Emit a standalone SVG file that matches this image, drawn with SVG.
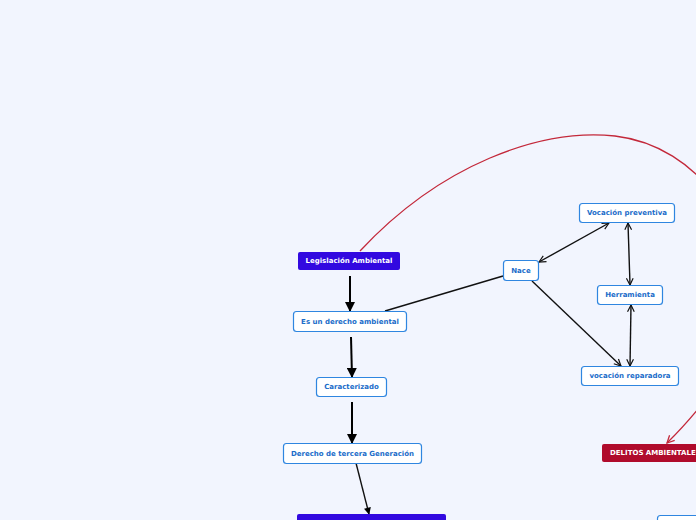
<svg xmlns="http://www.w3.org/2000/svg" width="696" height="520" viewBox="0 0 696 520">
<style>
.bg{fill:#f2f5fe}
.w rect{fill:#ffffff;stroke:#2f86e0;stroke-width:1.2}
.w text{fill:#1a6cc9}
.p rect{fill:#3209e0}
.p text{fill:#ffffff}
.r rect{fill:#b00b2c}
.r text{fill:#ffffff}
text{font-family:"DejaVu Sans",Verdana,sans-serif;font-weight:bold;font-size:7px;text-anchor:middle;dominant-baseline:central}
.thick{stroke:#000;stroke-width:2;fill:none}
.thin{stroke:#111;stroke-width:1.4;fill:none}
.red{stroke:#c3283a;stroke-width:1.3;fill:none}
</style>
<defs>
<marker id="big" viewBox="0 0 10 10" refX="9" refY="5" markerWidth="6" markerHeight="5" markerUnits="strokeWidth" orient="auto">
<path d="M0,0 L10,5 L0,10 Z" fill="#000"/>
</marker>
<marker id="v" viewBox="0 0 10 10" refX="9" refY="5" markerWidth="6" markerHeight="6" markerUnits="strokeWidth" orient="auto-start-reverse">
<path d="M1,1 L9,5 L1,9" fill="none" stroke="#111" stroke-width="1.4"/>
</marker>
<marker id="vr" viewBox="0 0 10 10" refX="9" refY="5" markerWidth="7" markerHeight="7" markerUnits="strokeWidth" orient="auto">
<path d="M1,1 L9,5 L1,9" fill="none" stroke="#c3283a" stroke-width="1.4"/>
</marker>
</defs>
<rect class="bg" x="0" y="0" width="696" height="520"/>
<g id="connectors">
<path class="red" d="M360,251 C440,165 540,128 615,136 C700,146 755,230 745,310 C740,360 705,405 667,443" marker-end="url(#vr)"/>
<line class="thick" x1="350" y1="276" x2="350" y2="311" marker-end="url(#big)"/>
<line class="thick" x1="351" y1="337" x2="352" y2="377" marker-end="url(#big)"/>
<line class="thick" x1="352" y1="402" x2="352" y2="443" marker-end="url(#big)"/>
<line class="thin" x1="356" y1="463" x2="369" y2="514" marker-end="url(#big)"/>
<line class="thin" x1="385" y1="311" x2="503" y2="276"/>
<line class="thin" x1="539" y1="262" x2="609" y2="223" marker-start="url(#v)" marker-end="url(#v)"/>
<line class="thin" x1="532" y1="281" x2="621" y2="366" marker-end="url(#v)"/>
<line class="thin" x1="628" y1="223" x2="630" y2="285" marker-start="url(#v)" marker-end="url(#v)"/>
<line class="thin" x1="631" y1="305" x2="630" y2="366" marker-start="url(#v)" marker-end="url(#v)"/>
</g>
<g id="legislacion" class="p"><rect x="298" y="252" width="102" height="18" rx="2"/><text x="349" y="261">Legislación Ambiental</text></g>
<g id="derecho-ambiental" class="w"><rect x="293.5" y="311.5" width="113" height="20" rx="3"/><text x="350" y="321.5">Es un derecho ambiental</text></g>
<g id="caracterizado" class="w"><rect x="316.5" y="377.5" width="70" height="19" rx="3"/><text x="351.5" y="387">Caracterizado</text></g>
<g id="tercera" class="w"><rect x="283.5" y="443.5" width="138" height="20" rx="3"/><text x="352.5" y="453.5">Derecho de tercera Generación</text></g>
<g id="bottom-purple" class="p"><rect x="297" y="514" width="149" height="20" rx="2"/></g>
<g id="nace" class="w"><rect x="503.5" y="260.5" width="35" height="20" rx="3"/><text x="521" y="270.5">Nace</text></g>
<g id="preventiva" class="w"><rect x="579.5" y="203.5" width="95" height="19" rx="3"/><text x="627" y="213">Vocación preventiva</text></g>
<g id="herramienta" class="w"><rect x="597.5" y="285.5" width="65" height="19" rx="3"/><text x="630" y="295">Herramienta</text></g>
<g id="reparadora" class="w"><rect x="581.5" y="366.5" width="97" height="19" rx="3"/><text x="630" y="376">vocación reparadora</text></g>
<g id="delitos" class="r"><rect x="602" y="444" width="110" height="18" rx="2"/><text x="610" y="453" style="text-anchor:start">DELITOS AMBIENTALES</text></g>
<g id="bottom-right" class="w"><rect x="657.5" y="515.5" width="60" height="20" rx="3"/></g>
</svg>
